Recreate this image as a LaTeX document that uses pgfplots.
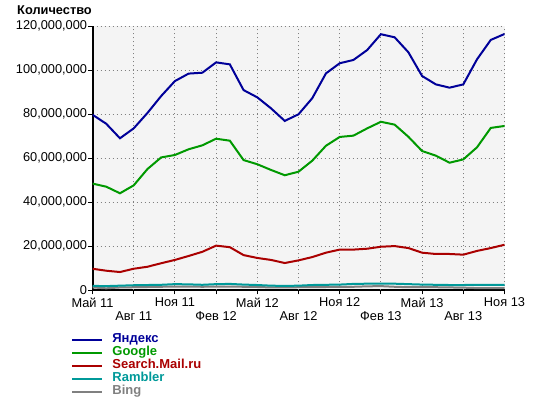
\documentclass[border=0pt]{standalone}
\usepackage{pgfplots}
\usepackage{pgfplotstable}
\pgfplotsset{compat=1.18}
\usepackage{fontspec}
\setmainfont{Liberation Sans}
\definecolor{cyan1}{RGB}{0,0,153}
\definecolor{cgoo}{RGB}{0,153,0}
\definecolor{cmail}{RGB}{170,0,0}
\definecolor{cramb}{RGB}{0,153,153}
\definecolor{cbing}{RGB}{128,128,128}
\definecolor{bgc}{RGB}{244,244,244}
\pgfplotstableread{
m yandex google mail rambler bing
0 79.8 48.5 9.8 2.0 1.3
1 75.7 47.1 8.9 1.9 0.9
2 69.1 44.1 8.3 2.1 1.3
3 73.6 47.7 9.8 2.3 1.4
4 80.6 55.1 10.7 2.4 1.5
5 88.3 60.4 12.3 2.5 1.6
6 95.1 61.5 13.8 2.8 1.7
7 98.5 64.1 15.6 2.7 1.7
8 98.9 65.9 17.5 2.5 1.6
9 103.6 68.9 20.3 2.8 1.7
10 102.7 68.0 19.6 2.9 1.7
11 91.0 59.2 16.0 2.6 1.6
12 87.7 57.3 14.7 2.4 1.5
13 82.7 54.7 13.8 2.1 1.3
14 77.0 52.3 12.4 2.0 1.3
15 80.0 53.9 13.6 2.1 1.4
16 87.3 58.9 15.1 2.4 1.4
17 98.6 65.7 17.1 2.5 1.5
18 103.2 69.7 18.5 2.6 1.5
19 104.7 70.3 18.5 2.9 1.6
20 109.2 73.6 18.9 3.0 1.8
21 116.4 76.6 19.8 3.0 1.9
22 115.0 75.3 20.1 3.0 1.6
23 108.2 69.8 19.2 2.8 1.4
24 97.4 63.3 17.1 2.6 1.4
25 93.6 61.2 16.5 2.5 1.4
26 92.1 58.0 16.5 2.4 1.3
27 93.6 59.5 16.2 2.4 1.2
28 105.0 65.0 17.9 2.5 1.0
29 113.8 73.8 19.2 2.5 1.0
30 116.5 74.7 20.7 2.5 1.0
}\datatable
\begin{document}
\begin{tikzpicture}
\useasboundingbox (0,0) rectangle (540pt,398pt);
\node[anchor=west, font=\bfseries\fontsize{12.8}{14}\selectfont, inner sep=0pt] at (17pt,388pt) {Количество};
\begin{axis}[
  at={(92.5pt,107.7pt)}, anchor=south west,
  width=412pt, height=264pt, scale only axis,
  xmin=0, xmax=30, ymin=0, ymax=120,
  axis x line*=bottom, axis y line*=left,
  axis line style={line width=2pt, -},
  axis background/.style={fill=bgc},
  tick align=outside, major tick length=4pt,
  tick style={black, line width=1pt},
  grid=major,
  major grid style={cbing, line width=0.9pt, dash pattern=on 1pt off 3pt},
  tick label style={font=\fontsize{12.8}{14}\selectfont},
  ytick={0,20,40,60,80,100,120},
  yticklabels={0,{20,000,000},{40,000,000},{60,000,000},{80,000,000},{100,000,000},{120,000,000}},
  yticklabel style={inner sep=1.2pt},
  xtick={0,6,12,18,24,30},
  xticklabels={Май 11,Ноя 11,Май 12,Ноя 12,Май 13,Ноя 13},
  xticklabel style={inner sep=3.5pt},
  extra x ticks={3,9,15,21,27},
  extra x tick labels={Авг 11,Фев 12,Авг 12,Фев 13,Авг 13},
  extra x tick style={grid=major, xticklabel style={yshift=-14pt}},
  legend style={at={(axis description cs:-0.059,-0.155)}, anchor=north west,
    draw=none, fill=none, font=\bfseries\fontsize{13}{13}\selectfont,
    row sep=0pt, column sep=0pt,
    nodes={inner sep=0.5pt, text height=9pt, text depth=3pt}},
  legend cell align=left,
  legend image code/.code={\draw[#1,line width=2pt] (0pt,0pt) -- (30pt,0pt);},
]
\addlegendimage{cyan1}
\addlegendentry{\textcolor{cyan1}{\hspace{8.5pt}Яндекс}}
\addlegendimage{cgoo}
\addlegendentry{\textcolor{cgoo}{\hspace{8.5pt}Google}}
\addlegendimage{cmail}
\addlegendentry{\textcolor{cmail}{\hspace{8.5pt}Search.Mail.ru}}
\addlegendimage{cramb}
\addlegendentry{\textcolor{cramb}{\hspace{8.5pt}Rambler}}
\addlegendimage{cbing}
\addlegendentry{\textcolor{cbing}{\hspace{8.5pt}Bing}}
\addplot[cbing, line width=2pt, forget plot] table[x=m, y=bing] {\datatable};
\addplot[cramb, line width=2pt, forget plot] table[x=m, y=rambler] {\datatable};
\addplot[cmail, line width=2pt, forget plot] table[x=m, y=mail] {\datatable};
\addplot[cgoo, line width=2pt, forget plot] table[x=m, y=google] {\datatable};
\addplot[cyan1, line width=2pt, forget plot] table[x=m, y=yandex] {\datatable};
\end{axis}
\end{tikzpicture}
\end{document}
